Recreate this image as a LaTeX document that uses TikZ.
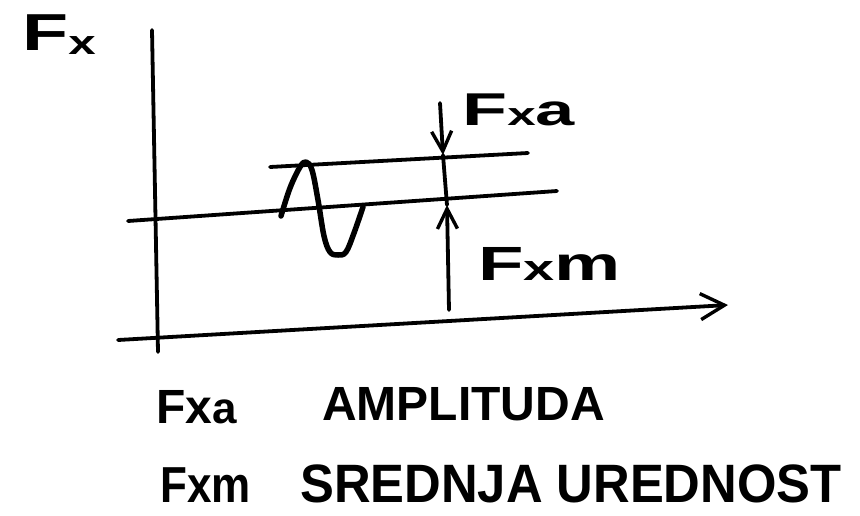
\documentclass[tikz,border=0pt]{standalone}
\usepackage{fontspec}
\setmainfont{Liberation Sans}
\usetikzlibrary{arrows.meta}
\tikzset{
  pen/.style={line width=3.8pt, line cap=round, line join=round},
  thickpen/.style={line width=5.5pt, line cap=round, line join=round},
  barb/.style={-{Straight Barb[length=20pt,width=20pt,line width=3.4pt]}},
  bigbarb/.style={-{Straight Barb[length=24pt,width=26pt,line width=3.4pt]}},
  lbl/.style={inner sep=0pt, anchor=base west, font=\bfseries},
}
\begin{document}
\begin{tikzpicture}[x=1pt,y=-1pt]
\useasboundingbox (0,0) rectangle (860,515);
% axes
\coordinate (ytop) at (152,30);
\coordinate (ybot) at (158,352);
\coordinate (xl) at (118,340);
\coordinate (xr) at (728,305);
\draw[pen] (ytop) -- (ybot);
\draw[pen,bigbarb] (xl) -- (xr);
% horizontal lines
\coordinate (ual) at (270,167);
\coordinate (uar) at (528,153);
\coordinate (ml) at (128,221);
\coordinate (mr) at (557,191);
\draw[pen] (ual) -- (uar);
\draw[pen] (ml) -- (mr);
% sine
\draw[thickpen] plot[smooth, tension=0.6] coordinates {(281,216) (290,188) (300,167) (306,162) (312,170) (318,200) (324,236) (330,252) (338,255) (346,252) (354,233) (363,207)};
% amplitude / mean arrows
\coordinate (at) at (440,103);
\coordinate (au) at (443,155);
\coordinate (am) at (447,205);
\coordinate (ab) at (449,310);
\draw[pen,barb] (at) -- (au);
\draw[pen] (au) -- (am);
\draw[pen,barb] (ab) -- (am);
% labels
\node[lbl, xscale=1.45] (fx) at (22,50) {\fontsize{52}{52}\selectfont F\raisebox{-0.15ex}{\fontsize{34}{34}\selectfont x}};
\node[lbl, xscale=1.6] (fxa) at (462,125) {\fontsize{46}{46}\selectfont F\fontsize{32}{32}\selectfont x\fontsize{44}{44}\selectfont a};
\node[lbl, xscale=1.55] (fxm) at (478,280) {\fontsize{48}{48}\selectfont F\fontsize{36}{36}\selectfont x\fontsize{48}{48}\selectfont m};
\node[lbl] (lfxa) at (156,423) {\fontsize{48}{48}\selectfont Fx\fontsize{44}{44}\selectfont a};
\node[lbl] (ampl) at (322,420) {\fontsize{48}{48}\selectfont AMPLITUDA};
\node[lbl, yscale=1.15] (lfxm) at (160,502) {\fontsize{44}{44}\selectfont Fxm};
\node[lbl, yscale=1.15, xscale=1.08] (sred) at (300,502) {\fontsize{47}{47}\selectfont SREDNJA UREDNOST};
\end{tikzpicture}
\end{document}
